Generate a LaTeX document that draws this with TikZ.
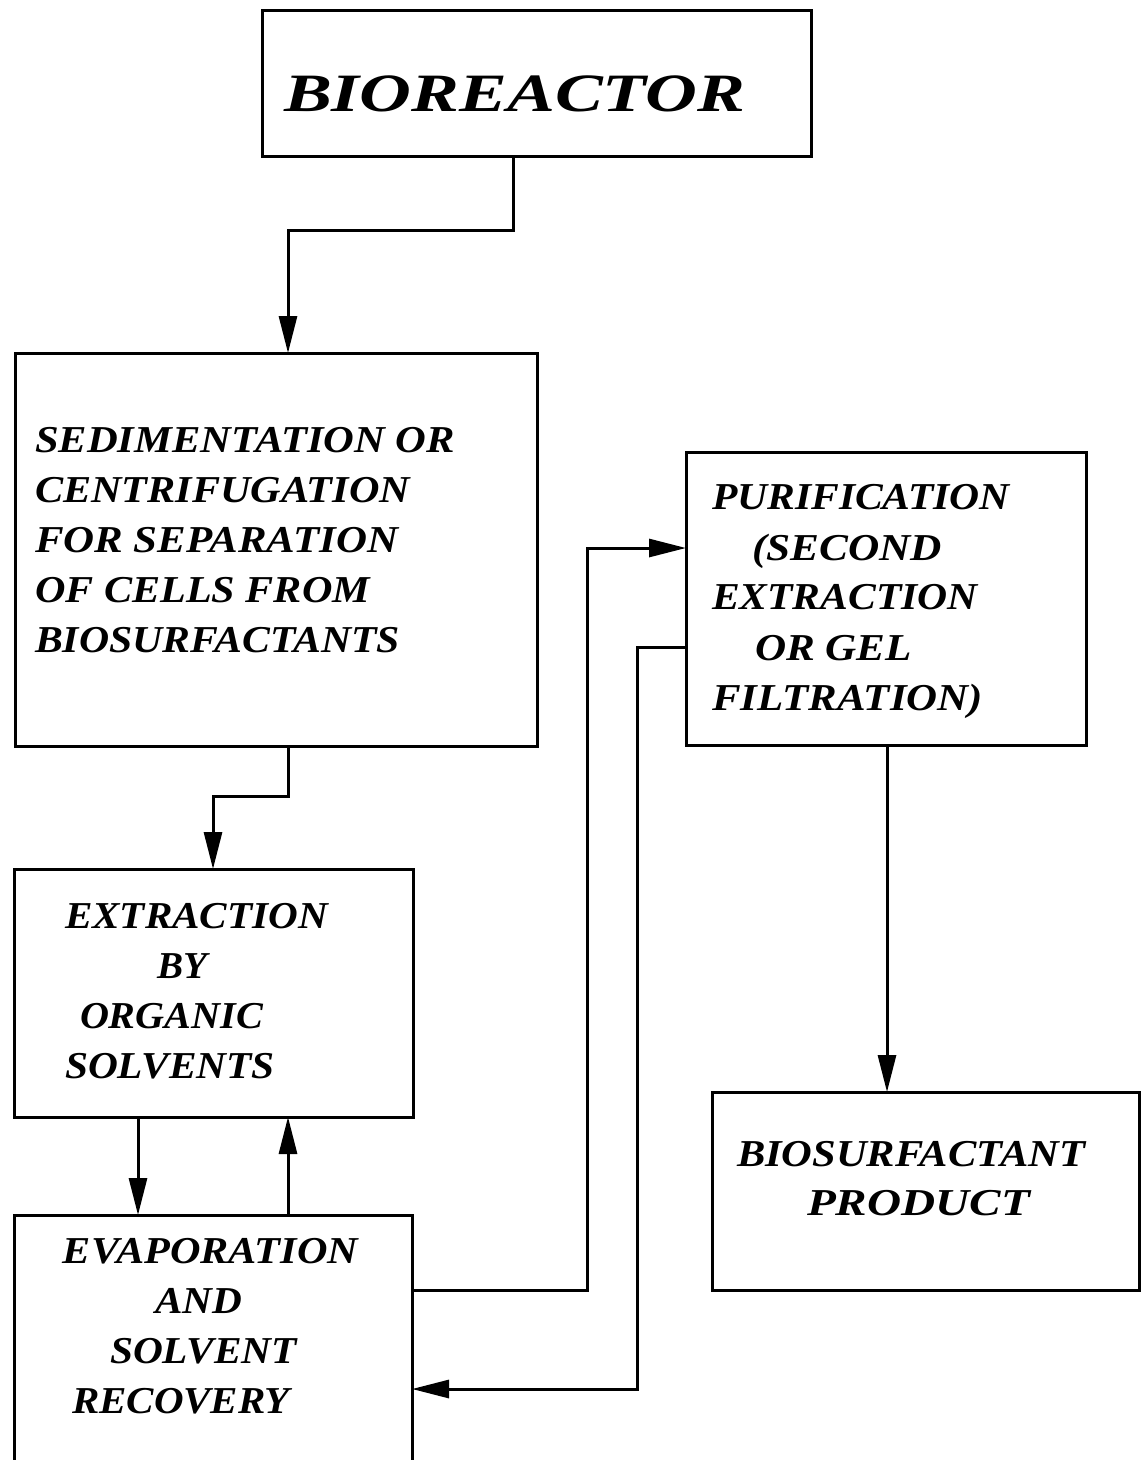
\documentclass[tikz,border=0pt]{standalone}
\usepackage{fontspec}
\setmainfont{Liberation Serif}
\usetikzlibrary{arrows.meta}

% stretch a line of text horizontally to a given width (in pt)
\newlength\linew
\newcommand\fitw[2]{\settowidth\linew{#2}\pgfmathsetmacro\xfac{#1/\linew}\scalebox{\xfac}[1]{#2}}

\begin{document}
\begin{tikzpicture}[x=1pt,y=-1pt,
  box/.style={draw, line width=3pt, rectangle, inner sep=0pt, outer sep=0pt, anchor=north west},
  wire/.style={line width=3pt, line join=miter},
  flow/.style={wire, -{Triangle[width=18pt,length=37pt]}},
  lbl/.style={anchor=base west, inner sep=0pt, outer sep=0pt,
    font=\fontsize{38}{40}\selectfont\bfseries\itshape},
  head/.style={lbl, font=\fontsize{54}{56}\selectfont\bfseries\itshape}
]
\useasboundingbox (0,0) rectangle (1144,1460);
\clip (0,0) rectangle (1144,1460);

% process boxes
\node[box, minimum width=549pt, minimum height=146pt] (bio) at (262,10) {};
\node[box, minimum width=522pt, minimum height=393pt] (sed) at (15,353) {};
\node[box, minimum width=399pt, minimum height=248pt] (ext) at (14,869) {};
\node[box, minimum width=398pt, minimum height=275pt] (evap) at (14,1215) {};
\node[box, minimum width=400pt, minimum height=293pt] (pur) at (686,452) {};
\node[box, minimum width=427pt, minimum height=198pt] (prod) at (712,1092) {};

% box texts
\node[head] (t-bio) at (284,111) {\fitw{461}{BIOREACTOR}};

\node[lbl] (t-sed1) at (35,452) {\fitw{420}{SEDIMENTATION OR}};
\node[lbl] (t-sed2) at (35,502) {\fitw{375}{CENTRIFUGATION}};
\node[lbl] (t-sed3) at (35,552) {\fitw{363}{FOR SEPARATION}};
\node[lbl] (t-sed4) at (35,602) {\fitw{335}{OF CELLS FROM}};
\node[lbl] (t-sed5) at (35,652) {\fitw{365}{BIOSURFACTANTS}};

\node[lbl] (t-ext1) at (65,928) {\fitw{263}{EXTRACTION}};
\node[lbl] (t-ext2) at (157,978) {\fitw{50}{BY}};
\node[lbl] (t-ext3) at (80,1028) {\fitw{183}{ORGANIC}};
\node[lbl] (t-ext4) at (65,1078) {\fitw{210}{SOLVENTS}};

\node[lbl] (t-eva1) at (63,1263) {\fitw{295}{EVAPORATION}};
\node[lbl] (t-eva2) at (155,1313) {\fitw{87}{AND}};
\node[lbl] (t-eva3) at (110,1363) {\fitw{187}{SOLVENT}};
\node[lbl] (t-eva4) at (72,1413) {\fitw{218}{RECOVERY}};

\node[lbl] (t-pur1) at (712,509) {\fitw{298}{PURIFICATION}};
\node[lbl] (t-pur2) at (752,560) {\fitw{190}{(SECOND}};
\node[lbl] (t-pur3) at (712,609) {\fitw{266}{EXTRACTION}};
\node[lbl] (t-pur4) at (755,660) {\fitw{157}{OR GEL}};
\node[lbl] (t-pur5) at (712,710) {\fitw{271}{FILTRATION)}};

\node[lbl] (t-prd1) at (737,1166) {\fitw{348}{BIOSURFACTANT}};
\node[lbl] (t-prd2) at (807,1215) {\fitw{223}{PRODUCT}};

% connector routing points
\coordinate (c1) at (513,0);
\coordinate (k1) at (288,230);
\coordinate (k2) at (213,796);
\coordinate (k3) at (138,0);
\coordinate (k4) at (587,1290);
\coordinate (k5) at (0,548);
\coordinate (k6) at (637,647);
\coordinate (k7) at (0,1389);
\coordinate (k8) at (887,0);

% connectors
\draw[flow] (bio.south -| c1) |- (k1) -- (sed.north -| k1);
\draw[flow] (sed.south -| k1) |- (k2) -- (ext.north -| k2);
\draw[flow] (ext.south -| k3) -- (evap.north -| k3);
\draw[flow] (evap.north -| k1) -- (ext.south -| k1);
\draw[flow] (evap.east |- k4) -- (k4) |- (pur.west |- k5);
\draw[flow] (pur.west |- k6) -- (k6) |- (evap.east |- k7);
\draw[flow] (pur.south -| k8) -- (prod.north -| k8);
\end{tikzpicture}
\end{document}
